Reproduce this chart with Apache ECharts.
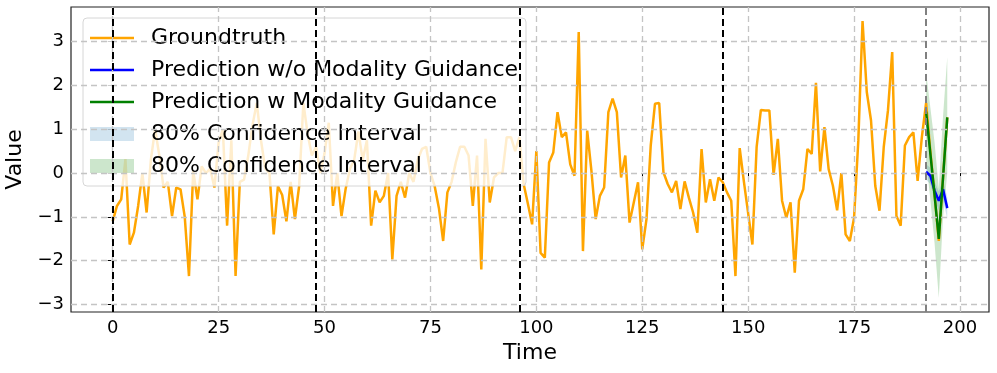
<!DOCTYPE html>
<html>
<head>
<meta charset="utf-8">
<title>Groundtruth vs Prediction</title>
<script src="https://cdn.jsdelivr.net/npm/echarts@6/dist/echarts.min.js"></script>
<style>
  html,body{margin:0;padding:0;background:#fff}
  #main{width:997px;height:373px}
</style>
</head>
<body>
<div id="main"></div>
<script>
// groundtruth, one value per time step starting at t = 0
var groundtruth = [
  -1.1, -0.75, -0.6, 0.32, -1.63, -1.36, -0.75, 0.0, -0.9, 0.3,
  1.0, 0.4, -0.33, -0.2, -0.98, -0.33, -0.37, -1.0, -2.35, 0.05,
  -0.6, 0.15, 0.0, 0.1, -0.33, 0.7, 1.0, -1.2, 0.75, -2.35,
  -0.2, -0.15, 0.4, 1.1, 1.6, 0.75, 0.1, 0.0, -1.4, -0.3,
  -0.5, -1.1, -0.2, -1.05, -0.3, 1.6, 0.9, 0.4, 0.6, 0.0,
  0.45, 1.15, -0.75, 0.0, -0.98, -0.35, 0.1, 0.3, 0.95, 0.3,
  0.75, -1.2, -0.4, -0.67, -0.52, 0.0, -1.97, -0.52, -0.2, -0.56,
  0.0, -0.2, 0.3, 0.55, 0.6, 0.0, -0.3, -0.8, -1.55, -0.44,
  -0.2, 0.25, 0.6, 0.6, 0.4, -0.75, 0.4, -2.2, 0.78, -0.67,
  -0.1, 0.0, 0.0, 0.82, 0.82, 0.5, 0.82, -0.25, -0.7, -1.17,
  0.5, -1.82, -1.93, 0.24, 0.47, 1.39, 0.82, 0.93, 0.2, -0.06,
  3.22, -1.78, 0.97, 0.05, -1.05, -0.52, -0.33, 1.39, 1.7, 1.39,
  -0.1, 0.4, -1.13, -0.67, -0.21, -1.74, -1.05, 0.63, 1.58, 1.6,
  0.02, -0.25, -0.44, -0.18, -0.82, -0.19, -0.56, -0.9, -1.36, 0.55,
  -0.67, -0.14, -0.63, -0.1, -0.21, -0.44, -0.63, -2.35, 0.57, -0.2,
  -0.92, -1.63, 0.6, 1.44, 1.43, 1.43, -0.04, 0.78, -0.63, -1.02,
  -0.67, -2.27, -0.63, -0.37, 0.55, 0.44, 2.06, 0.04, 1.05, 0.09,
  -0.29, -0.85, 0.0, -1.4, -1.55, -1.02, 0.74, 3.47, 1.85, 1.2,
  -0.29, -0.86, 0.59, 1.43, 2.76, -0.98, -1.2, 0.63, 0.82, 0.93,
  -0.18, 0.82, 1.6, 0.5, -0.5, -1.55, -0.1, 1.27
];

// forecast horizon starts at t = 192
var predStart = 192;
var predNoGuide = [0.03, -0.06, -0.4, -0.63, -0.37, -0.8];
var ciNoGuideLow = [-0.15, -0.25, -0.6, -0.85, -0.6, -1.05];
var ciNoGuideHigh = [0.2, 0.12, -0.2, -0.42, -0.15, -0.55];
var predGuide = [1.4, 0.45, -0.5, -1.5, -0.1, 1.27];
var ciGuideLow = [0.3, -0.6, -1.6, -2.85, -1.0, 0.0];
var ciGuideHigh = [2.3, 1.5, 0.7, -0.35, 1.3, 2.65];

var windowLines = [0, 48, 96, 144];
var xTicks = [0, 25, 50, 75, 100, 125, 150, 175, 200];
var yTicks = [-3, -2, -1, 0, 1, 2, 3];

function pts(arr, start) {
  return arr.map(function (v, i) { return [start + i, v]; });
}
function band(lo, hi) {
  return lo.map(function (v, i) { return [predStart + i, v, hi[i]]; });
}
function minus(v) { return String(v).replace('-', '\u2212'); }

// fill between lower and upper bound, drawn as one polygon
function bandRenderer(lo, hi, fill) {
  return function (params, api) {
    if (params.dataIndex !== 0) return null;
    var top = [], bottom = [];
    for (var i = 0; i < lo.length; i++) {
      top.push(api.coord([predStart + i, hi[i]]));
      bottom.unshift(api.coord([predStart + i, lo[i]]));
    }
    return {
      type: 'polygon',
      shape: {points: top.concat(bottom)},
      style: {fill: fill, stroke: null}
    };
  };
}

var font = 'DejaVu Sans';
var lineIcon = 'path://M0,0H44V2.5H0Z';
var myChart = echarts.init(document.getElementById('main'));

var option = {
  animation: false,
  grid: {
    left: 71, right: 8, top: 7, bottom: 61,
    outerBoundsMode: 'none', containLabel: false,
    show: true, borderColor: '#222', borderWidth: 1.2, backgroundColor: 'transparent'
  },
  legend: {
    orient: 'vertical',
    left: 83, top: 18,
    padding: [8, 8, 8, 7],
    itemWidth: 44, itemHeight: 14, itemGap: 8,
    backgroundColor: 'rgba(255,255,255,0.8)',
    borderColor: '#d6d6d6', borderWidth: 1, borderRadius: 4,
    textStyle: {fontFamily: font, fontSize: 22, color: '#000', lineHeight: 24, padding: [0, 0, 0, 12]},
    data: [
      {name: 'Groundtruth', icon: lineIcon},
      {name: 'Prediction w/o Modality Guidance', icon: lineIcon},
      {name: 'Prediction w Modality Guidance', icon: lineIcon},
      {name: '80% Confidence Interval', icon: 'rect', itemStyle: {color: 'rgba(31,119,180,0.2)'}},
      {name: '80% Confidence Interval\u200b', icon: 'rect', itemStyle: {color: 'rgba(0,128,0,0.2)'}}
    ]
  },
  xAxis: {
    type: 'value', min: -9.85, max: 206.85,
    name: 'Time', nameLocation: 'middle', nameGap: 28,
    nameTextStyle: {fontFamily: font, fontSize: 22, color: '#000'},
    axisLine: {show: false},
    splitLine: {show: false},
    axisTick: {show: true, customValues: xTicks, length: 5, lineStyle: {color: '#000', width: 1}},
    axisLabel: {customValues: xTicks, fontFamily: font, fontSize: 18, color: '#000', margin: 7}
  },
  yAxis: {
    type: 'value', min: -3.17, max: 3.79,
    name: 'Value', nameLocation: 'middle', nameGap: 39, nameRotate: 90,
    nameTextStyle: {fontFamily: font, fontSize: 22, color: '#000'},
    axisLine: {show: false},
    splitLine: {show: false},
    axisTick: {show: true, customValues: yTicks, length: 5, lineStyle: {color: '#000', width: 1}},
    axisLabel: {customValues: yTicks, fontFamily: font, fontSize: 18, color: '#000', margin: 7,
      formatter: function (v) { return minus(v); }}
  },
  series: [
    {
      // dashed grid
      name: 'grid', type: 'line', data: [], z: 0, silent: true,
      markLine: {
        silent: true, symbol: ['none', 'none'], label: {show: false},
        lineStyle: {color: '#c4c4c4', width: 1.3, type: [6, 4]},
        data: xTicks.map(function (v) { return {xAxis: v}; })
          .concat(yTicks.map(function (v) { return {yAxis: v}; }))
      }
    },
    {
      name: 'Groundtruth', type: 'line', data: pts(groundtruth, 0),
      symbol: 'none', color: '#FFA500', lineStyle: {width: 2.5}, z: 2
    },
    {
      name: '80% Confidence Interval', type: 'custom', data: band(ciNoGuideLow, ciNoGuideHigh),
      encode: {x: 0, y: [1, 2]}, color: 'rgba(31,119,180,0.2)', z: 2, silent: true,
      renderItem: bandRenderer(ciNoGuideLow, ciNoGuideHigh, 'rgba(31,119,180,0.2)')
    },
    {
      name: '80% Confidence Interval\u200b', type: 'custom', data: band(ciGuideLow, ciGuideHigh),
      encode: {x: 0, y: [1, 2]}, color: 'rgba(0,128,0,0.2)', z: 2, silent: true,
      renderItem: bandRenderer(ciGuideLow, ciGuideHigh, 'rgba(0,128,0,0.2)')
    },
    {
      name: 'Prediction w/o Modality Guidance', type: 'line', data: pts(predNoGuide, predStart),
      symbol: 'none', color: '#0000FF', lineStyle: {width: 2.5}, z: 3
    },
    {
      name: 'Prediction w Modality Guidance', type: 'line', data: pts(predGuide, predStart),
      symbol: 'none', color: '#008000', lineStyle: {width: 2.5}, z: 3
    },
    {
      // window boundaries and forecast start
      name: 'bounds', type: 'line', data: [], z: 4, silent: true,
      markLine: {
        silent: true, symbol: ['none', 'none'], label: {show: false},
        data: windowLines.map(function (v) {
          return {xAxis: v, lineStyle: {color: '#000', width: 2, type: [7, 4]}};
        }).concat([{xAxis: predStart, lineStyle: {color: '#808080', width: 2, type: [7, 4]}}])
      }
    }
  ]
};
myChart.setOption(option);
</script>
</body>
</html>
